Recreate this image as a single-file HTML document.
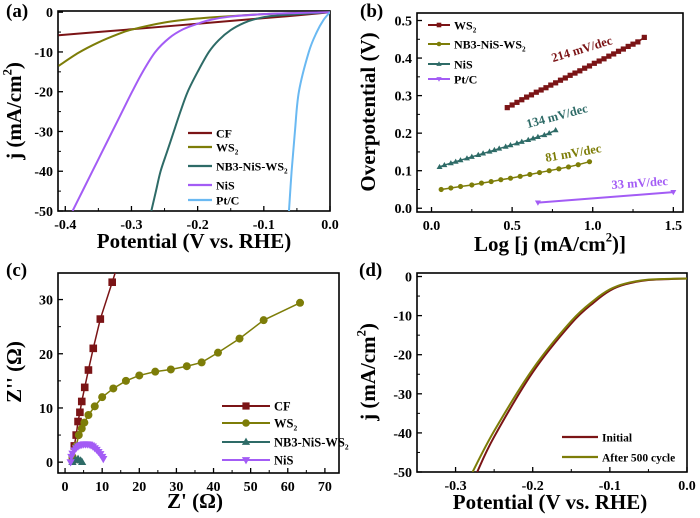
<!DOCTYPE html>
<html><head><meta charset="utf-8"><style>
html,body{margin:0;padding:0;background:#fff}
svg{display:block;font-family:"Liberation Serif",serif;font-weight:bold}
</style></head><body>
<svg id="fig" width="700" height="518" viewBox="0 0 700 518" xmlns="http://www.w3.org/2000/svg"></svg>
<script>
// ---- Panel (a) data: LSV ----
const aCF_x=[-0.41,-0.3,-0.2,-0.1,-0.05,0];
const aCF_y=[-5.8,-4.3,-2.9,-1.5,-0.8,0];
const aWS2_x=[-0.41,-0.38,-0.35,-0.32,-0.3,-0.25,-0.2,-0.15,-0.1,-0.05,0];
const aWS2_y=[-13.5,-10.2,-7.6,-5.5,-4.4,-2.6,-1.6,-1.0,-0.5,-0.2,0];
const aNB3_x=[-0.27,-0.263,-0.256,-0.246,-0.236,-0.226,-0.215,-0.2,-0.183,-0.168,-0.15,-0.13,-0.11,-0.09,-0.06,0];
const aNB3_y=[-50,-45,-40,-35,-30,-25,-20,-15,-10,-7,-4.5,-2.7,-1.6,-1.0,-0.6,0];
const aNiS_x=[-0.389,-0.374,-0.359,-0.344,-0.329,-0.314,-0.299,-0.283,-0.264,-0.243,-0.222,-0.2,-0.18,-0.15,-0.1,-0.05,0];
const aNiS_y=[-50,-45,-40,-35,-30,-25,-20,-15,-10,-6.5,-4.3,-2.9,-1.9,-1.1,-0.5,-0.2,0];
const aPt_x=[-0.062,-0.058,-0.053,-0.047,-0.032,-0.02,-0.01,0];
const aPt_y=[-50,-40,-30,-20,-10,-5,-2,0];
// ---- Panel (b) data: Tafel ----
const bWS2_x=[0.47,0.50,0.53,0.56,0.59,0.62,0.65,0.68,0.71,0.74,0.77,0.80,0.83,0.86,0.89,0.92,0.95,0.98,1.01,1.04,1.07,1.10,1.13,1.16,1.19,1.22,1.25,1.28,1.32];
const bWS2_y=[0.268,0.275,0.282,0.289,0.296,0.302,0.309,0.315,0.321,0.328,0.334,0.341,0.347,0.354,0.360,0.366,0.373,0.379,0.386,0.392,0.398,0.405,0.411,0.418,0.424,0.431,0.437,0.443,0.455];
const bNB3_x=[0.06,0.12,0.18,0.25,0.31,0.37,0.43,0.49,0.55,0.61,0.67,0.73,0.79,0.85,0.91,0.98];
const bNB3_y=[0.050,0.054,0.058,0.062,0.067,0.071,0.076,0.080,0.085,0.090,0.095,0.100,0.105,0.110,0.116,0.124];
const bNiS_x=[0.05,0.08,0.12,0.15,0.18,0.22,0.25,0.29,0.32,0.36,0.39,0.42,0.46,0.49,0.53,0.56,0.60,0.63,0.66,0.70,0.73,0.77];
const bNiS_y=[0.110,0.115,0.120,0.124,0.128,0.133,0.137,0.142,0.146,0.151,0.155,0.159,0.164,0.168,0.173,0.177,0.182,0.186,0.190,0.195,0.200,0.208];
const bPt_x=[0.66,0.78,0.90,1.02,1.14,1.26,1.38,1.50];
const bPt_y=[0.015,0.019,0.023,0.027,0.031,0.035,0.039,0.043];
// ---- Panel (c) data: Nyquist ----
const cCF_x=[2,2.5,3,3.5,4,4.5,5.3,6.3,7.6,9.5,12.7,14];
const cCF_y=[0.5,3,5,7.5,9.2,11.2,13.8,17,21,26.4,33.2,36];
const cWS2_x=[2,3,3.7,4.5,5.2,6.3,8,10,13,16.4,20,24.3,28.5,32.8,36.8,41.2,47,53.5,63.3];
const cWS2_y=[1,3,5,6.2,7.3,8.7,10.3,12,13.6,15,16,16.7,17.1,17.7,18.4,20.2,22.8,26.2,29.4];
const cNB3_x=[2,2.8,3.5,4.2,4.6];
const cNB3_y=[0,0.4,0.6,0.3,0];
const cNiS_x=[1.5,1.7,2,2.5,3,3.5,4,4.5,5,5.5,6,6.5,7,7.5,8,8.5,9,9.5,10,10.3];
const cNiS_y=[0,1,1.6,2.2,2.6,2.9,3.1,3.2,3.3,3.3,3.3,3.25,3.1,2.9,2.6,2.3,1.9,1.5,1,0.6];
// ---- Panel (d) data: stability ----
const dInit_x=[-0.272,-0.25,-0.2,-0.15,-0.12,-0.1,-0.08,-0.05,0];
const dInit_y=[-50,-41,-24.5,-12,-6.5,-3.6,-2,-0.9,-0.5];
const dAft_x=[-0.278,-0.25,-0.2,-0.15,-0.12,-0.1,-0.08,-0.05,0];
const dAft_y=[-50,-39.5,-23.7,-11.4,-6,-3.3,-1.8,-0.8,-0.5];
// ---- tick labels ----
const aXt=[-0.4,-0.3,-0.2,-0.1,0.0], aXl=['-0.4','-0.3','-0.2','-0.1','0.0'];
const aYt=[0,-10,-20,-30,-40,-50], aYl=['0','-10','-20','-30','-40','-50'];
const bXt=[0,0.5,1,1.5], bXl=['0.0','0.5','1.0','1.5'];
const bYt=[0,0.1,0.2,0.3,0.4,0.5], bYl=['0.0','0.1','0.2','0.3','0.4','0.5'];
const cXt=[0,10,20,30,40,50,60,70], cXl=['0','10','20','30','40','50','60','70'];
const cYt=[0,10,20,30], cYl=['0','10','20','30'];
const dXt=[-0.3,-0.2,-0.1,0.0], dXl=['-0.3','-0.2','-0.1','0.0'];
const dYt=[0,-10,-20,-30,-40,-50], dYl=['0','-10','-20','-30','-40','-50'];

const NS='http://www.w3.org/2000/svg';
const svg=document.getElementById('fig');
function mk(tag,attrs,parent){const e=document.createElementNS(NS,tag);for(const k in attrs)e.setAttribute(k,attrs[k]);(parent||svg).appendChild(e);return e;}
const C={red:'#7b1416',olive:'#7d7d08',teal:'#2e6b67',purple:'#a35cf5',blue:'#6ab9f2'};

function makePanel(name,px0,px1,py0,py1,xmin,xmax,ymin,ymax){
  const g=mk('g',{});
  
  
  return {g,sx:v=>px0+(v-xmin)/(xmax-xmin)*(px1-px0),sy:v=>py1-(v-ymin)/(ymax-ymin)*(py1-py0),px0,px1,py0,py1};
}
function axes(P,xt,xl,yt,yl,xminor,yminor){
  const ax=mk('g',{},P.g);
  
  
  xt.forEach((v,i)=>{const x=P.sx(v);mk('line',{x1:x,x2:x,y1:P.py1,y2:P.py1-5,stroke:'#000','stroke-width':1.3},ax);
    const t=mk('text',{x:x,y:P.py1+18,'text-anchor':'middle','font-size':14},ax);t.textContent=xl[i];
    
    });
  xminor.forEach(v=>{const x=P.sx(v);mk('line',{x1:x,x2:x,y1:P.py1,y2:P.py1-3,stroke:'#000','stroke-width':1},ax);});
  yt.forEach((v,i)=>{const y=P.sy(v);mk('line',{x1:P.px0,x2:P.px0+5,y1:y,y2:y,stroke:'#000','stroke-width':1.3},ax);
    const t=mk('text',{x:P.px0-5,y:y+5,'text-anchor':'end','font-size':14},ax);t.textContent=yl[i];
    
    });
  yminor.forEach(v=>{const y=P.sy(v);mk('line',{x1:P.px0,x2:P.px0+3,y1:y,y2:y,stroke:'#000','stroke-width':1},ax);});
  mk('rect',{x:P.px0,y:P.py0,width:P.px1-P.px0,height:P.py1-P.py0,fill:'none',stroke:'#000','stroke-width':1.6},ax);
}
function smooth(pts){
  let d='M'+pts[0][0]+','+pts[0][1];
  for(let i=0;i<pts.length-1;i++){
    const p0=pts[Math.max(0,i-1)],p1=pts[i],p2=pts[i+1],p3=pts[Math.min(pts.length-1,i+2)];
    const c1=[p1[0]+(p2[0]-p0[0])/6,p1[1]+(p2[1]-p0[1])/6],c2=[p2[0]-(p3[0]-p1[0])/6,p2[1]-(p3[1]-p1[1])/6];
    d+='C'+c1+' '+c2+' '+p2;
  }
  return d;
}
function clipFor(P,id){const cp=mk('clipPath',{id:id});mk('rect',{x:P.px0,y:P.py0,width:P.px1-P.px0,height:P.py1-P.py0},cp);return 'url(#'+id+')';}
function curve(P,xs,ys,color,w,clip,curved){
  const pts=xs.map((x,i)=>[P.sx(x),P.sy(ys[i])]);
  const d=curved?smooth(pts):'M'+pts.map(p=>p.join(',')).join('L');
  return mk('path',{d:d,fill:'none',stroke:color,'stroke-width':w,'clip-path':clip},P.g);
}
function marker(g,type,x,y,s,color){
  if(type==='sq')return mk('rect',{x:x-s,y:y-s,width:2*s,height:2*s,fill:color},g);
  if(type==='ci')return mk('circle',{cx:x,cy:y,r:s,fill:color},g);
  if(type==='tu')return mk('polygon',{points:[x,y-s*1.2,x-s*1.15,y+s*0.8,x+s*1.15,y+s*0.8].join(' ').replace(/(\S+) (\S+)/g,'$1,$2'),fill:color},g);
  if(type==='td')return mk('polygon',{points:[x,y+s*1.2,x-s*1.15,y-s*0.8,x+s*1.15,y-s*0.8].join(' ').replace(/(\S+) (\S+)/g,'$1,$2'),fill:color},g);
}
function markers(P,xs,ys,type,s,color,clip){
  const g=mk('g',{'clip-path':clip},P.g);
  xs.forEach((x,i)=>{const m=marker(g,type,P.sx(x),P.sy(ys[i]),s,color);
    
    });
  return g;
}
function txt(parent,x,y,size,parts,attrs){
  const t=mk('text',Object.assign({x:x,y:y,'font-size':size},attrs||{}),parent);
  parts.forEach(p=>{const s=mk('tspan',{},t);s.textContent=p[0];
    if(p[1]==='sub'){s.setAttribute('font-size',size*0.6);s.setAttribute('dy',size*0.25);}
    if(p[1]==='sup'){s.setAttribute('font-size',size*0.6);s.setAttribute('dy',-size*0.45);}
    if(p[1]==='back'){s.setAttribute('dy',p[2]);}});
  return t;
}
function legendLine(P,x1,x2,y,color,w,label,mtype,ms){
  const g=mk('g',{},P.g);
  
  
  mk('line',{x1:x1,x2:x2,y1:y,y2:y,stroke:color,'stroke-width':w},g);
  if(mtype)marker(g,mtype,(x1+x2)/2,y,ms,color);
  txt(g,x2+4,y+4.5,label.size||12,label.parts);
}

// ================= Panel (a)
const A=makePanel('panel-a-lsv',58,330,11,211,-0.411,0,-50,0.3);
axes(A,aXt,aXl,aYt,aYl,[-0.35,-0.25,-0.15,-0.05],[-5,-15,-25,-35,-45]);
const ca=clipFor(A,'ca');
curve(A,aCF_x,aCF_y,C.red,2,ca,true);
curve(A,aWS2_x,aWS2_y,C.olive,2,ca,true);
curve(A,aNB3_x,aNB3_y,C.teal,2,ca,true);
curve(A,aNiS_x,aNiS_y,C.purple,2,ca,true);
curve(A,aPt_x,aPt_y,C.blue,2,ca,true);
legendLine(A,188,212,133,C.red,2.2,{parts:[['CF']]});
legendLine(A,188,212,147,C.olive,2.2,{parts:[['WS'],['2','sub']]});
legendLine(A,188,212,166,C.teal,2.2,{parts:[['NB3-NiS-WS'],['2','sub']]});
legendLine(A,188,212,185,C.purple,2.2,{parts:[['NiS']]});
legendLine(A,188,212,200,C.blue,2.2,{parts:[['Pt/C']]});
txt(svg,194,248,21,[['Potential (V vs. RHE)']],{'text-anchor':'middle'});
txt(svg,0,0,21,[['j (mA/cm'],['2','sup'],[')','back',9]],{'text-anchor':'middle',transform:'translate(21,111) rotate(-90)'});
txt(svg,6,17,19,[['(a)']]);

// ================= Panel (b)
const B=makePanel('panel-b-tafel',417,683,13,212,-0.09,1.56,-0.01,0.52);
axes(B,bXt,bXl,bYt,bYl,[0.25,0.75,1.25],[0.05,0.15,0.25,0.35,0.45]);
const cb=clipFor(B,'cb');
curve(B,bWS2_x,bWS2_y,C.red,1.5,cb,false);markers(B,bWS2_x,bWS2_y,'sq',2.6,C.red,cb);
curve(B,bNB3_x,bNB3_y,C.olive,1.5,cb,false);markers(B,bNB3_x,bNB3_y,'ci',2.6,C.olive,cb);
curve(B,bNiS_x,bNiS_y,C.teal,1.5,cb,false);markers(B,bNiS_x,bNiS_y,'tu',2.6,C.teal,cb);
curve(B,bPt_x,bPt_y,C.purple,2,cb,false);markers(B,[bPt_x[0],bPt_x[bPt_x.length-1]],[bPt_y[0],bPt_y[bPt_y.length-1]],'td',2.6,C.purple,cb);
legendLine(B,428,450,25,C.red,2,{parts:[['WS'],['2','sub']]},'sq',2.3);
legendLine(B,428,450,44,C.olive,2,{parts:[['NB3-NiS-WS'],['2','sub']]},'ci',2.3);
legendLine(B,428,450,64,C.teal,2,{parts:[['NiS']]},'tu',2.3);
legendLine(B,428,450,79,C.purple,2,{parts:[['Pt/C']]},'td',2.3);
txt(svg,0,0,12.5,[['214 mV/dec']],{'text-anchor':'middle',fill:C.red,transform:'translate(583,53) rotate(-17)'});
txt(svg,0,0,12.5,[['134 mV/dec']],{'text-anchor':'middle',fill:C.teal,transform:'translate(558,120) rotate(-15)'});
txt(svg,0,0,12.5,[['81 mV/dec']],{'text-anchor':'middle',fill:C.olive,transform:'translate(574,157) rotate(-10)'});
txt(svg,0,0,12.5,[['33 mV/dec']],{'text-anchor':'middle',fill:C.purple,transform:'translate(640,187) rotate(-4)'});
txt(svg,550,251,21,[['Log [j (mA/cm'],['2','sup'],[')]','back',9]],{'text-anchor':'middle'});
txt(svg,0,0,21,[['Overpotential (V)']],{'text-anchor':'middle',transform:'translate(375,112) rotate(-90)'});
txt(svg,360,17,19,[['(b)']]);

// ================= Panel (c)
const Cp=makePanel('panel-c-nyquist',58,339,273,473,-1.9,73.8,-2,34.9);
axes(Cp,cXt,cXl,cYt,cYl,[5,15,25,35,45,55,65],[5,15,25]);
const cc=clipFor(Cp,'cc');
curve(Cp,cCF_x,cCF_y,C.red,1.5,cc,false);markers(Cp,cCF_x,cCF_y,'sq',3.8,C.red,cc);
curve(Cp,cWS2_x,cWS2_y,C.olive,1.5,cc,false);markers(Cp,cWS2_x,cWS2_y,'ci',4,C.olive,cc);
curve(Cp,cNB3_x,cNB3_y,C.teal,1.5,cc,false);markers(Cp,cNB3_x,cNB3_y,'tu',3.6,C.teal,cc);
curve(Cp,cNiS_x,cNiS_y,C.purple,1.5,cc,false);markers(Cp,cNiS_x,cNiS_y,'td',3.6,C.purple,cc);
legendLine(Cp,222,270,406,C.red,2,{parts:[['CF']],size:12.5},'sq',3.6);
legendLine(Cp,222,270,423,C.olive,2,{parts:[['WS'],['2','sub']],size:12.5},'ci',3.8);
legendLine(Cp,222,270,442,C.teal,2,{parts:[['NB3-NiS-WS'],['2','sub']],size:12.5},'tu',3.6);
legendLine(Cp,222,270,460,C.purple,2,{parts:[['NiS']],size:12.5},'td',3.6);
txt(svg,195,508,21,[["Z' (Ω)"]],{'text-anchor':'middle'});
txt(svg,0,0,21,[["Z'' (Ω)"]],{'text-anchor':'middle',transform:'translate(21,372) rotate(-90)'});
txt(svg,6,276,19,[['(c)']]);

// ================= Panel (d)
const D=makePanel('panel-d-stability',417,687,273,472,-0.35,0,-50,0.9);
axes(D,dXt,dXl,dYt,dYl,[-0.35,-0.25,-0.15,-0.05],[-5,-15,-25,-35,-45]);
const cd=clipFor(D,'cd');
curve(D,dInit_x,dInit_y,C.red,2,cd,true);
curve(D,dAft_x,dAft_y,C.olive,2,cd,true);
legendLine(D,562,598,437,C.red,2.2,{parts:[['Initial']],size:11.5});
legendLine(D,562,598,457,C.olive,2.2,{parts:[['After 500 cycle']],size:11.5});
txt(svg,550,509,21,[['Potential (V vs. RHE)']],{'text-anchor':'middle'});
txt(svg,0,0,21,[['j (mA/cm'],['2','sup'],[')','back',9]],{'text-anchor':'middle',transform:'translate(375,372) rotate(-90)'});
txt(svg,359,276,19,[['(d)']]);
</script>
</body></html>
